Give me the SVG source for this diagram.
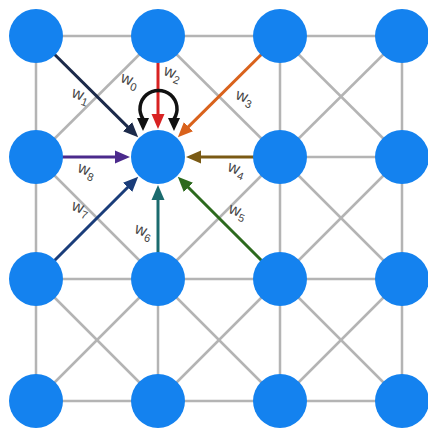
<svg xmlns="http://www.w3.org/2000/svg" width="428" height="428" viewBox="0 0 428 428">
  <style>
    .grid { stroke: #b4b4b4; stroke-width: 2.5; fill: none; }
    .arrow { stroke-width: 3; fill: none; }
    .node { fill: #1482ef; }
    .lbl { font-family: "Liberation Sans", Arial, sans-serif; font-size: 16px; fill: #444444; text-anchor: middle; }
    .sub { font-size: 11px; }
  </style>
  <defs>
    <marker id="m1" markerUnits="userSpaceOnUse" markerWidth="16" markerHeight="14" refX="1" refY="7" orient="auto"><path d="M0,0.5 L15,7 L0,13.5 z" fill="#1c2a4a"/></marker>
    <marker id="m2" markerUnits="userSpaceOnUse" markerWidth="16" markerHeight="14" refX="1" refY="7" orient="auto"><path d="M0,0.5 L15,7 L0,13.5 z" fill="#d82222"/></marker>
    <marker id="m3" markerUnits="userSpaceOnUse" markerWidth="16" markerHeight="14" refX="1" refY="7" orient="auto"><path d="M0,0.5 L15,7 L0,13.5 z" fill="#d9621c"/></marker>
    <marker id="m4" markerUnits="userSpaceOnUse" markerWidth="16" markerHeight="14" refX="1" refY="7" orient="auto"><path d="M0,0.5 L15,7 L0,13.5 z" fill="#7a5a14"/></marker>
    <marker id="m5" markerUnits="userSpaceOnUse" markerWidth="16" markerHeight="14" refX="1" refY="7" orient="auto"><path d="M0,0.5 L15,7 L0,13.5 z" fill="#2d6a1e"/></marker>
    <marker id="m6" markerUnits="userSpaceOnUse" markerWidth="16" markerHeight="14" refX="1" refY="7" orient="auto"><path d="M0,0.5 L15,7 L0,13.5 z" fill="#1b6b6e"/></marker>
    <marker id="m7" markerUnits="userSpaceOnUse" markerWidth="16" markerHeight="14" refX="1" refY="7" orient="auto"><path d="M0,0.5 L15,7 L0,13.5 z" fill="#1a3d7a"/></marker>
    <marker id="m8" markerUnits="userSpaceOnUse" markerWidth="16" markerHeight="14" refX="1" refY="7" orient="auto"><path d="M0,0.5 L15,7 L0,13.5 z" fill="#4b2a8c"/></marker>
    <marker id="m0" markerUnits="userSpaceOnUse" markerWidth="14" markerHeight="14" refX="3" refY="7" orient="auto-start-reverse"><path d="M0,1 L13,7 L0,13 z" fill="#111111"/></marker>
  </defs>

  <!-- lattice edges -->
  <g id="connectors">
    <g class="grid">
      <!-- horizontals -->
      <line x1="36" y1="36" x2="402" y2="36"/>
      <line x1="280" y1="157" x2="402" y2="157"/>
      <line x1="36" y1="279" x2="402" y2="279"/>
      <line x1="36" y1="401" x2="402" y2="401"/>
      <!-- verticals -->
      <line x1="36" y1="36" x2="36" y2="401"/>
      <line x1="158" y1="279" x2="158" y2="401"/>
      <line x1="280" y1="36" x2="280" y2="401"/>
      <line x1="402" y1="36" x2="402" y2="401"/>
      <!-- diagonals -->
      <line x1="158" y1="36" x2="36" y2="157"/>
      <line x1="158" y1="36" x2="280" y2="157"/>
      <line x1="280" y1="36" x2="402" y2="157"/>
      <line x1="402" y1="36" x2="280" y2="157"/>
      <line x1="36" y1="157" x2="158" y2="279"/>
      <line x1="280" y1="157" x2="158" y2="279"/>
      <line x1="280" y1="157" x2="402" y2="279"/>
      <line x1="402" y1="157" x2="280" y2="279"/>
      <line x1="36" y1="279" x2="158" y2="401"/>
      <line x1="158" y1="279" x2="36" y2="401"/>
      <line x1="158" y1="279" x2="280" y2="401"/>
      <line x1="280" y1="279" x2="158" y2="401"/>
      <line x1="280" y1="279" x2="402" y2="401"/>
      <line x1="402" y1="279" x2="280" y2="401"/>
    </g>
    <!-- weighted inputs to the centre node -->
    <line class="arrow" x1="36" y1="36" x2="128.2" y2="127.4" stroke="#1c2a4a" marker-end="url(#m1)"/>
    <line class="arrow" x1="158" y1="60" x2="158" y2="115" stroke="#d82222" marker-end="url(#m2)"/>
    <line class="arrow" x1="280" y1="36" x2="187.8" y2="127.4" stroke="#d9621c" marker-end="url(#m3)"/>
    <line class="arrow" x1="280" y1="157" x2="200" y2="157" stroke="#7a5a14" marker-end="url(#m4)"/>
    <line class="arrow" x1="280" y1="279" x2="187.7" y2="186.7" stroke="#2d6a1e" marker-end="url(#m5)"/>
    <line class="arrow" x1="158" y1="279" x2="158" y2="199" stroke="#1b6b6e" marker-end="url(#m6)"/>
    <line class="arrow" x1="36" y1="279" x2="128.3" y2="186.7" stroke="#1a3d7a" marker-end="url(#m7)"/>
    <line class="arrow" x1="36" y1="157" x2="116" y2="157" stroke="#4b2a8c" marker-end="url(#m8)"/>
    <!-- self loop -->
    <path class="arrow" style="stroke-width:3.5" d="M143 121 L143 119 A18.5 18.5 0 1 1 174 119 L174 121" stroke="#111111" marker-start="url(#m0)" marker-end="url(#m0)"/>
  </g>

  <!-- nodes -->
  <g id="n00"><circle class="node" cx="36" cy="36" r="27"/></g>
  <g id="n10"><circle class="node" cx="158" cy="36" r="27"/></g>
  <g id="n20"><circle class="node" cx="280" cy="36" r="27"/></g>
  <g id="n30"><circle class="node" cx="402" cy="36" r="27"/></g>
  <g id="n01"><circle class="node" cx="36" cy="157" r="27"/></g>
  <g id="n11"><circle class="node" cx="158" cy="157" r="27"/></g>
  <g id="n21"><circle class="node" cx="280" cy="157" r="27"/></g>
  <g id="n31"><circle class="node" cx="402" cy="157" r="27"/></g>
  <g id="n02"><circle class="node" cx="36" cy="279" r="27"/></g>
  <g id="n12"><circle class="node" cx="158" cy="279" r="27"/></g>
  <g id="n22"><circle class="node" cx="280" cy="279" r="27"/></g>
  <g id="n32"><circle class="node" cx="402" cy="279" r="27"/></g>
  <g id="n03"><circle class="node" cx="36" cy="401" r="27"/></g>
  <g id="n13"><circle class="node" cx="158" cy="401" r="27"/></g>
  <g id="n23"><circle class="node" cx="280" cy="401" r="27"/></g>
  <g id="n33"><circle class="node" cx="402" cy="401" r="27"/></g>

  <!-- weight labels -->
  <g id="labels">
    <text class="lbl" x="80" y="100" transform="rotate(20 80 97)">w<tspan class="sub" dy="4">1</tspan></text>
    <text class="lbl" x="129" y="85" transform="rotate(20 129 82)">w<tspan class="sub" dy="4">0</tspan></text>
    <text class="lbl" x="172" y="78" transform="rotate(20 172 75)">w<tspan class="sub" dy="4">2</tspan></text>
    <text class="lbl" x="244" y="102" transform="rotate(20 244 99)">w<tspan class="sub" dy="4">3</tspan></text>
    <text class="lbl" x="236" y="174" transform="rotate(20 236 171)">w<tspan class="sub" dy="4">4</tspan></text>
    <text class="lbl" x="237" y="216" transform="rotate(20 237 213)">w<tspan class="sub" dy="4">5</tspan></text>
    <text class="lbl" x="143" y="236" transform="rotate(20 143 233)">w<tspan class="sub" dy="4">6</tspan></text>
    <text class="lbl" x="80" y="213" transform="rotate(20 80 210)">w<tspan class="sub" dy="4">7</tspan></text>
    <text class="lbl" x="86" y="175" transform="rotate(20 86 172)">w<tspan class="sub" dy="4">8</tspan></text>
  </g>
</svg>
